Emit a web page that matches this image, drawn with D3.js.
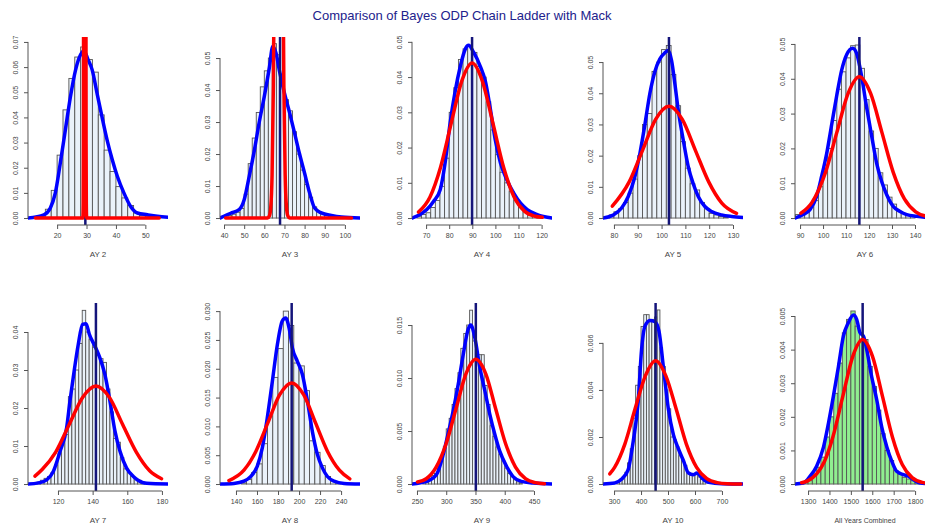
<!DOCTYPE html>
<html>
<head>
<meta charset="utf-8">
<script src="https://d3js.org/d3.v7.min.js"></script>
<style>
body { margin: 0; background: #fff; }
text { font-family: Arial, "Liberation Sans", sans-serif; }
</style>
</head>
<body>
<div id="chart"></div>
<script>
var title = "Comparison of Bayes ODP Chain Ladder with Mack";
var panelLabels = ["AY 2", "AY 3", "AY 4", "AY 5", "AY 6", "AY 7", "AY 8", "AY 9", "AY 10", "All Years Combined"];

// axis ranges (R usr) and ticks
var xLimits = [[10.1, 57.7], [38, 107.5], [63.9, 124.5], [75.4, 134.2], [87.8, 148.7],
    [102.7, 183.5], [124.8, 258], [241.5, 480.8], [259, 778], [1239, 1893]];
var yMaxes = [0.0692, 0.0544, 0.0494, 0.0558, 0.0500, 0.0458, 0.0302, 0.01642, 0.0074, 0.00518];
var xTicks = [[20, 30, 40, 50], [40, 50, 60, 70, 80, 90, 100], [70, 80, 90, 100, 110, 120],
    [80, 90, 100, 110, 120, 130], [90, 100, 110, 120, 130, 140], [120, 140, 160, 180],
    [140, 160, 180, 200, 220, 240], [250, 300, 350, 400, 450], [300, 400, 500, 600, 700],
    [1300, 1400, 1500, 1600, 1700, 1800]];
var yTicks = [[0, 0.01, 0.02, 0.03, 0.04, 0.05, 0.06, 0.07], [0, 0.01, 0.02, 0.03, 0.04, 0.05],
    [0, 0.01, 0.02, 0.03, 0.04, 0.05], [0, 0.01, 0.02, 0.03, 0.04, 0.05], [0, 0.01, 0.02, 0.03, 0.04, 0.05],
    [0, 0.01, 0.02, 0.03, 0.04], [0, 0.005, 0.010, 0.015, 0.020, 0.025, 0.030], [0, 0.005, 0.010, 0.015],
    [0, 0.002, 0.004, 0.006], [0, 0.001, 0.002, 0.003, 0.004, 0.005]];
var yDigits = [2, 2, 2, 2, 2, 2, 3, 3, 3, 3];

// histogram bins (density)
var binStarts = [14, 42, 66, 76, 88, 106, 145, 260, 310, 1280];
var binWidths = [2, 2, 2, 2, 2, 2, 5, 5, 10, 20];
var histAY2 = [0.0005, 0.0035, 0.011, 0.025, 0.043, 0.0555, 0.064, 0.068, 0.063, 0.058, 0.041, 0.027, 0.0185, 0.0125, 0.008, 0.005, 0.002, 0.001, 0.0005];
var histAY3 = [0.0008, 0.0012, 0.0018, 0.003, 0.0075, 0.017, 0.025, 0.033, 0.041, 0.046, 0.050, 0.0545, 0.051, 0.045, 0.037, 0.0335, 0.027, 0.020, 0.015, 0.0105, 0.0065, 0.0035, 0.002, 0.0015, 0.001, 0.0008, 0.0005, 0.0003, 0.0002];
var histAY4 = [0.0005, 0.001, 0.0015, 0.003, 0.005, 0.009, 0.017, 0.030, 0.037, 0.045, 0.048, 0.049, 0.047, 0.043, 0.040, 0.033, 0.025, 0.018, 0.013, 0.010, 0.0075, 0.005, 0.003, 0.0018, 0.001, 0.0005, 0.0003];
var histAY5 = [0.0005, 0.001, 0.002, 0.003, 0.005, 0.008, 0.0125, 0.020, 0.030, 0.0335, 0.047, 0.050, 0.054, 0.0553, 0.046, 0.036, 0.0245, 0.016, 0.011, 0.009, 0.005, 0.003, 0.0015, 0.001, 0.0005, 0.0003];
var histAY6 = [0.001, 0.0015, 0.002, 0.003, 0.005, 0.009, 0.014, 0.020, 0.028, 0.037, 0.042, 0.046, 0.0495, 0.0497, 0.043, 0.034, 0.025, 0.020, 0.013, 0.0095, 0.006, 0.004, 0.002, 0.0013, 0.0008, 0.0005];
var histAY7 = [0.0003, 0.0005, 0.001, 0.0015, 0.002, 0.003, 0.005, 0.008, 0.012, 0.013, 0.023, 0.025, 0.030, 0.037, 0.0457, 0.040, 0.038, 0.036, 0.034, 0.033, 0.032, 0.025, 0.019, 0.012, 0.011, 0.007, 0.004, 0.003, 0.002, 0.0015, 0.001, 0.0005, 0.0003];
var histAY8 = [0.0002, 0.0008, 0.002, 0.0035, 0.007, 0.0118, 0.0185, 0.0235, 0.030, 0.0275, 0.021, 0.0205, 0.0162, 0.0075, 0.0055, 0.0032, 0.0013, 0.0005, 0.0002];
var histAY9 = [0.0002, 0.0003, 0.0005, 0.0008, 0.001, 0.0015, 0.0022, 0.0035, 0.0052, 0.0062, 0.0075, 0.009, 0.0105, 0.0128, 0.0142, 0.015, 0.0164, 0.0135, 0.0118, 0.0122, 0.0122, 0.0093, 0.0075, 0.0055, 0.0045, 0.0035, 0.0028, 0.0022, 0.0015, 0.001, 0.0007, 0.0004, 0.0002, 0.0001];
var histAY10 = [0.0001, 0.0002, 0.0003, 0.0005, 0.0009, 0.0015, 0.0028, 0.0042, 0.005, 0.0067, 0.0072, 0.0072, 0.0069, 0.007, 0.0071, 0.0074, 0.0058, 0.005, 0.004, 0.0032, 0.002, 0.0019, 0.0016, 0.0012, 0.001, 0.0008, 0.0005, 0.0004, 0.0004, 0.0004, 0.0003, 0.0002, 0.0001];
var histAll = [0.00005, 0.0001, 0.0003, 0.0005, 0.0008, 0.0014, 0.002, 0.0027, 0.0036, 0.0045, 0.0049, 0.00515, 0.0047, 0.0043, 0.0043, 0.0035, 0.0029, 0.0022, 0.0015, 0.001, 0.0007, 0.0004, 0.0003, 0.0002, 0.00015, 0.0001, 0.00005];

// Bayes ODP density (blue)
var blueAY2 = [[10.1, 0], [15.5, 0.0013], [17.7, 0.004], [19.4, 0.010], [21.1, 0.022], [22.8, 0.035], [24.5, 0.048], [26.3, 0.059], [28, 0.065], [29.1, 0.0665], [30.5, 0.063], [31.9, 0.059], [33.6, 0.0495], [35.3, 0.040], [37.0, 0.031], [38.8, 0.023], [40.5, 0.0165], [42.7, 0.010], [45, 0.0046], [47.3, 0.002], [50.7, 0.0013], [54.1, 0.0007], [58, 0.0003]];
var blueAY3 = [[38, 0], [43.3, 0.0015], [47.5, 0.0026], [50, 0.0057], [52.5, 0.013], [55, 0.021], [57.5, 0.030], [60, 0.038], [62.5, 0.047], [64.2, 0.0536], [65.8, 0.0516], [67.5, 0.046], [70, 0.039], [72.5, 0.033], [75, 0.0266], [77.5, 0.020], [80, 0.014], [82.5, 0.0078], [85, 0.0031], [88.3, 0.0016], [93.3, 0.0008], [98.3, 0.0003], [107.5, 0]];
var blueAY4 = [[63.9, 0], [67.4, 0.001], [70.3, 0.0024], [73.2, 0.0047], [76.1, 0.008], [78.3, 0.016], [80.4, 0.027], [82.6, 0.036], [84.8, 0.043], [87, 0.048], [88.4, 0.049], [90.6, 0.047], [93.5, 0.043], [95.7, 0.0387], [97.8, 0.031], [100, 0.022], [102.2, 0.0156], [105, 0.0108], [108, 0.007], [110.9, 0.0042], [113.8, 0.0024], [118.1, 0.001], [124.5, 0]];
var blueAY5 = [[75.4, 0], [79.7, 0.001], [83.2, 0.0032], [86, 0.0069], [88.8, 0.0133], [90.9, 0.0207], [93, 0.030], [95.1, 0.040], [97.2, 0.047], [99.3, 0.051], [101.4, 0.053], [102.8, 0.0537], [104.2, 0.0505], [105.6, 0.043], [107, 0.0346], [109.1, 0.025], [111.2, 0.0165], [113.3, 0.011], [115.4, 0.0069], [118.2, 0.0037], [121, 0.0021], [125.2, 0.001], [129.4, 0.0005], [134.2, 0.0002]];
var blueAY6 = [[87.8, 0], [91.4, 0.001], [94.3, 0.0024], [97.2, 0.0062], [99.4, 0.012], [101.6, 0.0186], [103.8, 0.027], [105.9, 0.035], [108.1, 0.0425], [110.3, 0.047], [112.9, 0.0488], [114.6, 0.0473], [116.8, 0.0406], [118.9, 0.032], [121.2, 0.0234], [123.3, 0.0158], [125.5, 0.0105], [127.7, 0.0067], [130.6, 0.0033], [133.5, 0.0019], [136.4, 0.001], [140.7, 0.0005], [144.3, 0.0002], [148.7, 0]];
var blueAY7 = [[102.7, 0], [108.7, 0.0003], [113.5, 0.0011], [117.3, 0.0033], [121.2, 0.0086], [125, 0.0148], [126.9, 0.0218], [128.8, 0.028], [131.7, 0.0367], [134.2, 0.042], [136.2, 0.0422], [138.1, 0.0394], [141.3, 0.0363], [144.2, 0.0332], [147.1, 0.0288], [150, 0.0218], [152.9, 0.0139], [155.8, 0.0086], [159.6, 0.0042], [163.5, 0.002], [167.3, 0.0007], [171.2, 0.0002], [183.5, 0]];
var blueAY8 = [[124.8, 0], [138, 0.0001], [147.6, 0.0005], [153.9, 0.0013], [160.3, 0.0031], [165.1, 0.0063], [169.8, 0.0115], [174.6, 0.0178], [179.4, 0.0242], [184.1, 0.0283], [187.3, 0.0288], [190.5, 0.0271], [193.7, 0.0236], [198.4, 0.0213], [203.2, 0.019], [208, 0.0144], [212.7, 0.0091], [217.5, 0.0051], [222.2, 0.0028], [227, 0.0013], [233.3, 0.0005], [242.9, 0.0001], [258, 0]];
var blueAY9 = [[241.5, 0], [266.5, 0.00025], [283.5, 0.0009], [294.9, 0.0028], [303.4, 0.0048], [311.9, 0.0069], [320.5, 0.0094], [329, 0.0122], [337.5, 0.0146], [342, 0.015], [348.9, 0.0138], [357.4, 0.011], [366, 0.0088], [374.4, 0.0066], [383, 0.0047], [391.5, 0.0031], [402.8, 0.0017], [414.2, 0.0007], [428.4, 0.00025], [448.3, 0.0001], [480.8, 0]];
var blueAY10 = [[259, 0], [302.5, 0.00004], [327.3, 0.0002], [352, 0.0006], [370.8, 0.0018], [389.4, 0.0035], [401.9, 0.0057], [414.3, 0.0067], [433, 0.00695], [451.6, 0.0069], [466.5, 0.0065], [482.6, 0.005], [501.2, 0.0032], [519.9, 0.0021], [538.5, 0.0015], [557, 0.001], [575.8, 0.00047], [594.4, 0.0004], [606.8, 0.00047], [625.5, 0.00026], [650.3, 0.00007], [700, 0.00001], [778, 0]];
var blueAll = [[1239, 0], [1278, 0.00003], [1309, 0.00023], [1340, 0.00053], [1372, 0.0011], [1395, 0.0018], [1418, 0.0026], [1442, 0.0035], [1465, 0.0044], [1488, 0.0048], [1512, 0.00503], [1527, 0.0049], [1543, 0.0045], [1559, 0.0044], [1574, 0.004], [1597, 0.0032], [1621, 0.0025], [1644, 0.0017], [1668, 0.0011], [1691, 0.00068], [1714, 0.00038], [1745, 0.00028], [1769, 0.00023], [1792, 0.00013], [1823, 0.00003], [1893, 0]];

// Mack normal curve (red)
var redAY2 = [[12.6, 0], [28.7, 0], [28.8, 0.0009], [28.875, 0.0058], [28.95, 0.0295], [29.025, 0.117], [29.1, 0.36], [29.4, 2.66], [29.7, 0.36], [29.775, 0.117], [29.85, 0.0295], [29.925, 0.0058], [30.0, 0.0009], [30.1, 0], [54.7, 0]];
var redAY3 = [[40.8, 0], [61.6, 0], [62.55, 0.0007], [63.2, 0.0034], [63.85, 0.0135], [64.5, 0.0415], [65.15, 0.0997], [65.8, 0.187], [67.1, 0.307], [68.4, 0.187], [69.05, 0.0997], [69.7, 0.0415], [70.35, 0.0135], [71.0, 0.0034], [71.65, 0.0007], [72.6, 0], [103.3, 0]];
var redAY4 = [[66.7, 0.0017], [71.7, 0.006], [76.2, 0.0143], [80.8, 0.0267], [85.4, 0.0388], [89.9, 0.044], [94.4, 0.0388], [99, 0.0267], [103.6, 0.0143], [108.1, 0.006], [112.7, 0.0019], [117.2, 0.0005], [120.3, 0.0002]];
var redAY5 = [[79.3, 0.0038], [86.4, 0.0116], [92, 0.0217], [97.5, 0.0316], [103.1, 0.0358], [108.7, 0.0316], [114.2, 0.0217], [119.8, 0.0116], [125.3, 0.0048], [131.5, 0.0015]];
var redAY6 = [[90.4, 0.0014], [95.2, 0.0045], [101.1, 0.0132], [106, 0.0246], [110.9, 0.0358], [115.8, 0.0406], [120.7, 0.0358], [125.6, 0.0246], [130.5, 0.0132], [135.4, 0.0055], [140.3, 0.0018], [145, 0.0005], [150, 0.0001]];
var redAY7 = [[106.7, 0.0021], [111, 0.0039], [118.7, 0.0084], [126.4, 0.0156], [134.2, 0.0228], [141.9, 0.0258], [149.7, 0.0228], [157.4, 0.0156], [165.2, 0.0084], [172.9, 0.0035], [179.8, 0.0014]];
var redAY8 = [[133.3, 0.0006], [147.6, 0.0024], [159, 0.0057], [170.3, 0.0106], [181.6, 0.0155], [193, 0.01755], [204.4, 0.0155], [215.7, 0.0106], [227, 0.0057], [238.4, 0.0024], [248.3, 0.0009]];
var redAY9 = [[251, 0.0002], [265.8, 0.0005], [282.8, 0.0016], [299.8, 0.0038], [316.7, 0.0071], [333.7, 0.0104], [350.6, 0.01177], [367.6, 0.0104], [384.5, 0.0071], [401.5, 0.0038], [418.4, 0.0016], [435.4, 0.0005], [452.3, 0.00013], [468, 0.00003]];
var redAY10 = [[284, 0.00043], [302, 0.00071], [340, 0.0017], [378, 0.0032], [416, 0.0046], [454, 0.00524], [492, 0.0046], [530, 0.0032], [568, 0.0017], [606, 0.00071], [644, 0.00023], [682, 0.00006], [720, 0.00001], [770, 0]];
var redAll = [[1270, 0.00004], [1300, 0.0001], [1340, 0.0003], [1377, 0.00068], [1416, 0.0014], [1462, 0.0026], [1509, 0.0038], [1555, 0.0043], [1601, 0.0038], [1648, 0.0026], [1694, 0.0014], [1740, 0.00058], [1786, 0.00019], [1833, 0.00005], [1880, 0.00001]];

// mean reserve (vertical line)
var meanValues = [29.6, 67.8, 89.9, 103.1, 115.8, 141.9, 193, 350.6, 454, 1555];

var hists = [histAY2, histAY3, histAY4, histAY5, histAY6, histAY7, histAY8, histAY9, histAY10, histAll];
var blues = [blueAY2, blueAY3, blueAY4, blueAY5, blueAY6, blueAY7, blueAY8, blueAY9, blueAY10, blueAll];
var reds = [redAY2, redAY3, redAY4, redAY5, redAY6, redAY7, redAY8, redAY9, redAY10, redAll];

var svgW = 925;
var svgH = 526;

// plot regions
var plotLeft = [28, 220, 412, 603, 795];
var rowTop = [37, 303];
var plotW = 140,
    plotH = 188;

var axisCol = "#555",
    textCol = "#444";

var svg = d3.select("#chart")
    .append("svg")
    .attr("width", svgW)
    .attr("height", svgH);

svg.append("text")
    .attr("x", 462)
    .attr("y", 19.5)
    .attr("text-anchor", "middle")
    .attr("font-size", 13)
    .attr("fill", "#22228c")
    .text(title);

function drawPanel(i) {
    var left = plotLeft[i % 5],
        top = rowTop[Math.floor(i / 5)],
        bottom = top + plotH;
    var ymax = yMaxes[i];

    var xScale = d3.scaleLinear()
        .domain(xLimits[i])
        .range([left, left + plotW]);
    var yScale = d3.scaleLinear()
        .domain([-0.04 * ymax, 1.04 * ymax]) // R pads the range by 4%
        .range([bottom, top]);

    svg.append("clipPath")
        .attr("id", "clip" + i)
        .append("rect")
        .attr("x", left)
        .attr("y", top)
        .attr("width", plotW)
        .attr("height", plotH);

    var g = svg.append("g")
        .attr("clip-path", "url(#clip" + i + ")");

    g.selectAll(".bar")
        .data(hists[i])
        .enter()
        .append("rect")
        .attr("class", "bar")
        .attr("x", function(d, j) {
            return xScale(binStarts[i] + j * binWidths[i]);
        })
        .attr("width", function(d, j) {
            return xScale(binStarts[i] + (j + 1) * binWidths[i]) - xScale(binStarts[i] + j * binWidths[i]);
        })
        .attr("y", function(d) {
            return yScale(d);
        })
        .attr("height", function(d) {
            return yScale(0) - yScale(d);
        })
        .attr("fill", i == 9 ? "#90EE90" : "#EAF2FA")
        .attr("stroke", "#555")
        .attr("stroke-width", 0.9);

    var line = d3.line()
        .x(function(d) {
            return xScale(d[0]);
        })
        .y(function(d) {
            return yScale(d[1]);
        })
        .curve(d3.curveMonotoneX);

    g.append("path")
        .attr("d", line(blues[i]))
        .attr("fill", "none")
        .attr("stroke", "#0000FF")
        .attr("stroke-width", 3.5)
        .attr("stroke-linecap", "round")
        .attr("stroke-linejoin", "round");

    g.append("line")
        .attr("x1", xScale(meanValues[i]))
        .attr("x2", xScale(meanValues[i]))
        .attr("y1", top)
        .attr("y2", bottom)
        .attr("stroke", "#14147a")
        .attr("stroke-width", 2.5);

    g.append("path")
        .attr("d", line(reds[i]))
        .attr("fill", "none")
        .attr("stroke", "#FF0000")
        .attr("stroke-width", 3.5)
        .attr("stroke-linecap", "round")
        .attr("stroke-linejoin", "round");

    // y axis
    var yAxis = d3.axisLeft(yScale)
        .tickValues(yTicks[i])
        .tickSize(4)
        .tickFormat(d3.format("." + yDigits[i] + "f"));
    var yG = svg.append("g")
        .attr("transform", "translate(" + left + ",0)")
        .call(yAxis);
    yG.select(".domain").remove();
    yG.selectAll(".tick line").attr("stroke", axisCol);
    yG.selectAll(".tick text")
        .attr("x", null)
        .attr("dy", null)
        .attr("text-anchor", "middle")
        .attr("transform", "translate(-10.5,0) rotate(-90)")
        .attr("font-size", 7)
        .attr("font-family", "Arial, 'Liberation Sans', sans-serif")
        .attr("fill", textCol);
    var yt = yTicks[i];
    yG.append("line")
        .attr("y1", yScale(yt[0]))
        .attr("y2", yScale(yt[yt.length - 1]))
        .attr("stroke", axisCol);

    // x axis
    var xAxis = d3.axisBottom(xScale)
        .tickValues(xTicks[i])
        .tickSize(4)
        .tickPadding(4)
        .tickFormat(d3.format("d"));
    var xG = svg.append("g")
        .attr("transform", "translate(0," + bottom + ")")
        .call(xAxis);
    xG.select(".domain").remove();
    xG.selectAll(".tick line").attr("stroke", axisCol);
    xG.selectAll(".tick text")
        .attr("font-size", 7)
        .attr("font-family", "Arial, 'Liberation Sans', sans-serif")
        .attr("fill", textCol);
    var xt = xTicks[i];
    xG.append("line")
        .attr("x1", xScale(xt[0]))
        .attr("x2", xScale(xt[xt.length - 1]))
        .attr("stroke", axisCol);

    svg.append("text")
        .attr("x", left + plotW / 2)
        .attr("y", bottom + 31.5)
        .attr("text-anchor", "middle")
        .attr("font-size", i == 9 ? 7 : 8)
        .attr("fill", textCol)
        .text(panelLabels[i]);
}

for (var i = 0; i < panelLabels.length; i++) {
    drawPanel(i);
}
</script>
</body>
</html>
